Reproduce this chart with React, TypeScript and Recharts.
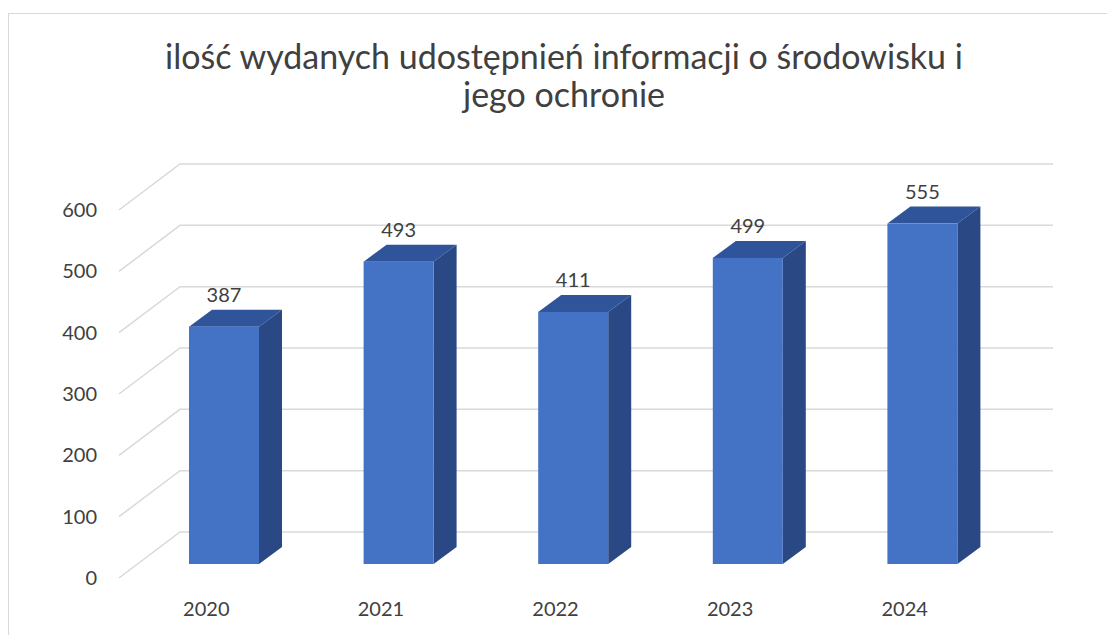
import React from "react";
import { Bar, BarChart, CartesianGrid, LabelList, XAxis, YAxis } from "recharts";

const years = ["2020", "2021", "2022", "2023", "2024"];
const counts = [387, 493, 411, 499, 555];
const yTicks = [0, 100, 200, 300, 400, 500, 600];
const titleLines = ["ilość wydanych udostępnień informacji o środowisku i", "jego ochronie"];

const data = years.map((year, i) => ({ year, count: counts[i] }));

const FONT = "Lato, 'Open Sans', sans-serif";
const TEXT = "#404040";
const GRID = "#d9d9d9";

// perspective of the floor / back wall
const WALL_DX = 61;
const WALL_DY = -46;
// bar front sits 0.3 into the depth
const BAR_DX = 18;
const BAR_DY = -14;
// bar thickness
const BOX_DX = 23;
const BOX_DY = -17;

function GridLine(props: any) {
  const { x1, y1, x2 } = props;
  return (
    <path
      d={`M${x1},${y1} L${x1 + WALL_DX},${y1 + WALL_DY} L${x2 + WALL_DX},${y1 + WALL_DY}`}
      fill="none"
      stroke={GRID}
      strokeWidth={1.5}
    />
  );
}

function Box(props: any) {
  const { x, y, width, height } = props;
  const fx = x + BAR_DX;
  const fy = y + BAR_DY;
  return (
    <g>
      <polygon
        points={`${fx},${fy} ${fx + BOX_DX},${fy + BOX_DY} ${fx + width + BOX_DX},${fy + BOX_DY} ${fx + width},${fy}`}
        fill="#30549a"
      />
      <polygon
        points={`${fx + width},${fy} ${fx + width + BOX_DX},${fy + BOX_DY} ${fx + width + BOX_DX},${fy + height + BOX_DY} ${fx + width},${fy + height}`}
        fill="#2a4883"
      />
      <rect x={fx} y={fy} width={width} height={height} fill="#4472c4" />
    </g>
  );
}

function ValueLabel(props: any) {
  const { x, y, width, value } = props;
  return (
    <text
      x={x + BAR_DX + width / 2}
      y={y + BAR_DY + BOX_DY - 8}
      textAnchor="middle"
      fill={TEXT}
      fontSize={20}
      fontFamily={FONT}
    >
      {value}
    </text>
  );
}

export default function App() {
  return (
    <div style={{ position: "fixed", left: 0, top: 0, width: 1107, height: 635, background: "#fff", overflow: "hidden" }}>
      <div
        style={{
          position: "absolute",
          left: 8,
          top: 13,
          width: 1200,
          height: 700,
          border: `1px solid ${GRID}`,
        }}
      />
      <div
        style={{
          position: "absolute",
          left: 0,
          top: 37,
          width: 1128,
          textAlign: "center",
          fontFamily: FONT,
          fontSize: 34,
          lineHeight: "38px",
          color: TEXT,
        }}
      >
        {titleLines.map((l) => (
          <div key={l}>{l}</div>
        ))}
      </div>
      <div style={{ position: "absolute", left: 0, top: 0 }}>
        <BarChart width={1107} height={635} data={data} margin={{ top: 210, right: 115, left: 60, bottom: 27 }}>
          <CartesianGrid vertical={false} horizontal={GridLine} />
          <XAxis
            dataKey="year"
            tickLine={false}
            axisLine={false}
            height={30}
            tickMargin={18}
            tick={{ fill: TEXT, fontSize: 20, fontFamily: FONT }}
          />
          <YAxis
            domain={[0, 600]}
            ticks={yTicks}
            width={59}
            tickLine={false}
            axisLine={false}
            tickMargin={16}
            tick={{ fill: TEXT, fontSize: 20, fontFamily: FONT }}
          />
          <Bar dataKey="count" barSize={70} shape={Box} isAnimationActive={false}>
            <LabelList dataKey="count" content={ValueLabel} />
          </Bar>
        </BarChart>
      </div>
    </div>
  );
}
